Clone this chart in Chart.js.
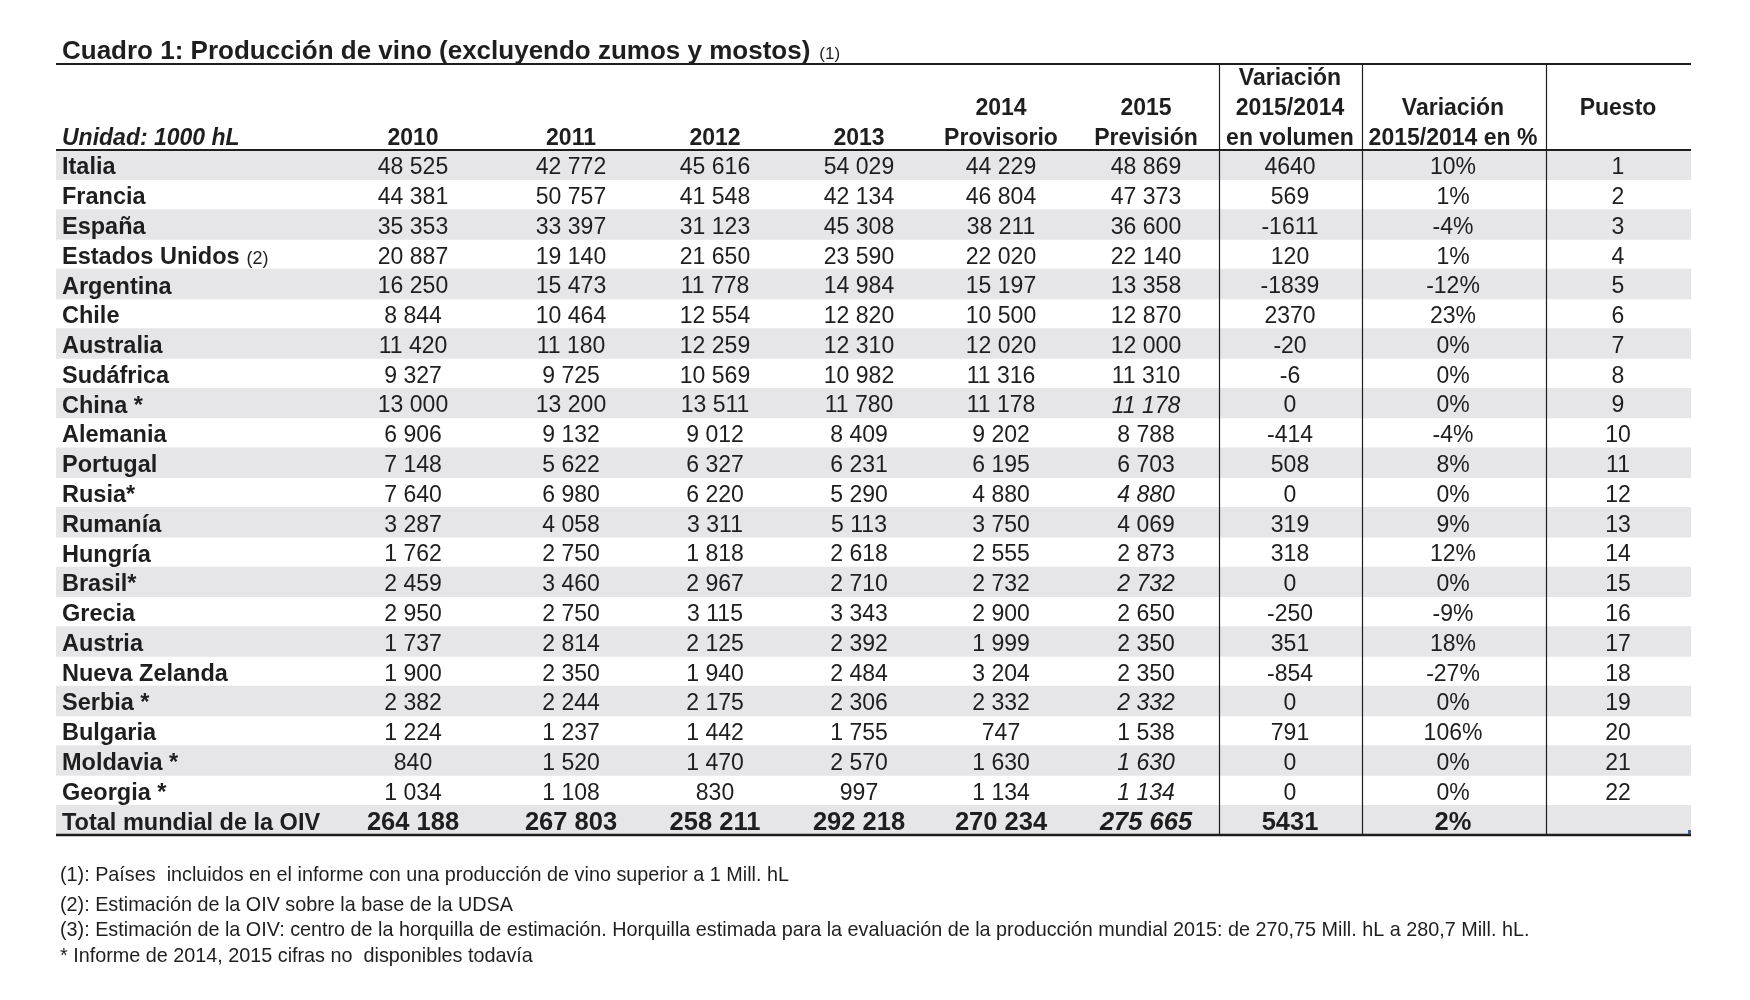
<!DOCTYPE html>
<html>
<head>
<meta charset="utf-8">
<script src="https://cdn.jsdelivr.net/npm/chart.js"></script>
<style>
    body { margin: 0; background: #fff; }
</style>
</head>
<body>
<canvas id="js--tabla" width="1750" height="1000"></canvas>
<script>
/* datos del cuadro, en 1000 hL */
const paises = ["Italia", "Francia", "España", "Estados Unidos (2)", "Argentina", "Chile", "Australia",
    "Sudáfrica", "China *", "Alemania", "Portugal", "Rusia*", "Rumanía", "Hungría", "Brasil*", "Grecia",
    "Austria", "Nueva Zelanda", "Serbia *", "Bulgaria", "Moldavia *", "Georgia *", "Total mundial de la OIV"];

const prod2010 = [48525, 44381, 35353, 20887, 16250, 8844, 11420, 9327, 13000, 6906, 7148, 7640, 3287, 1762, 2459, 2950, 1737, 1900, 2382, 1224, 840, 1034, 264188];
const prod2011 = [42772, 50757, 33397, 19140, 15473, 10464, 11180, 9725, 13200, 9132, 5622, 6980, 4058, 2750, 3460, 2750, 2814, 2350, 2244, 1237, 1520, 1108, 267803];
const prod2012 = [45616, 41548, 31123, 21650, 11778, 12554, 12259, 10569, 13511, 9012, 6327, 6220, 3311, 1818, 2967, 3115, 2125, 1940, 2175, 1442, 1470, 830, 258211];
const prod2013 = [54029, 42134, 45308, 23590, 14984, 12820, 12310, 10982, 11780, 8409, 6231, 5290, 5113, 2618, 2710, 3343, 2392, 2484, 2306, 1755, 2570, 997, 292218];
const prod2014 = [44229, 46804, 38211, 22020, 15197, 10500, 12020, 11316, 11178, 9202, 6195, 4880, 3750, 2555, 2732, 2900, 1999, 3204, 2332, 747, 1630, 1134, 270234];
const prod2015 = [48869, 47373, 36600, 22140, 13358, 12870, 12000, 11310, 11178, 8788, 6703, 4880, 4069, 2873, 2732, 2650, 2350, 2350, 2332, 1538, 1630, 1134, 275665];
const variacionVol = [4640, 569, -1611, 120, -1839, 2370, -20, -6, 0, -414, 508, 0, 319, 318, 0, -250, 351, -854, 0, 791, 0, 0, 5431];
const variacionPct = [10, 1, -4, 1, -12, 23, 0, 0, 0, -4, 8, 0, 9, 12, 0, -9, 18, -27, 0, 106, 0, 0, 2];
const puesto = [1, 2, 3, 4, 5, 6, 7, 8, 9, 10, 11, 12, 13, 14, 15, 16, 17, 18, 19, 20, 21, 22, null];

// cifras de 2015 que repiten el informe de 2014 (van en cursiva)
const repetido2015 = [8, 11, 14, 18, 20, 21, 22];

const encabezados = [
    ["Unidad: 1000 hL"], ["2010"], ["2011"], ["2012"], ["2013"],
    ["2014", "Provisorio"], ["2015", "Previsión"],
    ["Variación", "2015/2014", "en volumen"], ["Variación", "2015/2014 en %"], ["Puesto"]
];

const titulo = "Cuadro 1: Producción de vino (excluyendo zumos y mostos)";
const notas = [
    "(1): Países  incluidos en el informe con una producción de vino superior a 1 Mill. hL",
    "(2): Estimación de la OIV sobre la base de la UDSA",
    "(3): Estimación de la OIV: centro de la horquilla de estimación. Horquilla estimada para la evaluación de la producción mundial 2015: de 270,75 Mill. hL a 280,7 Mill. hL.",
    "* Informe de 2014, 2015 cifras no  disponibles todavía"
];

/* opmaak: kolommen in eenheden van de x-as (0 - 1635) */
const ANCHO = 1635;
const colX = [6, 357, 515, 659, 803, 945, 1090, 1234, 1397, 1562];
const separadores = [1163, 1306, 1490];
const FONT = '"Liberation Sans", Arial, Helvetica, sans-serif';
const GRIS = '#e6e6e8';
const TINTA = '#1e1e1e';

function miles(n) {
    return String(n).replace(/\B(?=(\d{3})+(?!\d))/g, ' ');
}

const tablaPlugin = {
    id: 'tabla',
    afterDatasetsDraw: function (chart) {
        const ctx = chart.ctx;
        const x = chart.scales.x;
        const y = chart.scales.y;
        const area = chart.chartArea;
        const izq = x.getPixelForValue(0);
        const der = x.getPixelForValue(ANCHO);

        ctx.save();
        ctx.fillStyle = TINTA;
        ctx.strokeStyle = TINTA;
        ctx.textBaseline = 'middle';

        // titulo
        ctx.textAlign = 'left';
        ctx.font = 'bold 26px ' + FONT;
        ctx.fillText(titulo, x.getPixelForValue(colX[0]), area.top - 98);
        const w = ctx.measureText(titulo).width;
        ctx.font = '17px ' + FONT;
        ctx.fillText("(1)", x.getPixelForValue(colX[0]) + w + 9, area.top - 96);

        // lineas
        ctx.lineWidth = 2;
        ctx.beginPath();
        ctx.moveTo(izq, area.top - 86); ctx.lineTo(der, area.top - 86);
        ctx.moveTo(izq, area.top); ctx.lineTo(der, area.top);
        ctx.stroke();
        ctx.lineWidth = 2.5;
        ctx.beginPath();
        ctx.moveTo(izq, area.bottom); ctx.lineTo(der, area.bottom);
        ctx.stroke();
        ctx.lineWidth = 1.2;
        ctx.beginPath();
        separadores.forEach(function (s) {
            const px = Math.round(x.getPixelForValue(s)) + 0.5;
            ctx.moveTo(px, area.top - 86); ctx.lineTo(px, area.bottom);
        });
        ctx.stroke();

        // encabezados
        encabezados.forEach(function (lineas, c) {
            const px = x.getPixelForValue(colX[c]);
            ctx.textAlign = c === 0 ? 'left' : 'center';
            ctx.font = (c === 0 ? 'italic bold ' : 'bold ') + '23px ' + FONT;
            // "Puesto" sits centred in the header, the rest bottom aligned
            const abajo = c === 9 ? area.top - 41 : area.top - 11;
            for (let l = 0; l < lineas.length; l++) {
                ctx.fillText(lineas[l], px, abajo - (lineas.length - 1 - l) * 30);
            }
        });

        // celdas
        const columnas = [prod2010, prod2011, prod2012, prod2013, prod2014, prod2015];
        for (let i = 0; i < paises.length; i++) {
            const py = y.getPixelForValue(i) + 3;
            const total = i === paises.length - 1;
            const tam = total ? 'bold 25.5px ' : '23px ';

            ctx.textAlign = 'left';
            const m = paises[i].match(/^(.*)\s(\(\d\))$/);
            const nombre = m ? m[1] : paises[i];
            ctx.font = 'bold 23.5px ' + FONT;
            ctx.fillText(nombre, x.getPixelForValue(colX[0]), py);
            if (m) {
                const wn = ctx.measureText(nombre).width;
                ctx.font = '18px ' + FONT;
                ctx.fillText(m[2], x.getPixelForValue(colX[0]) + wn + 7, py + 2);
            }

            ctx.textAlign = 'center';
            columnas.forEach(function (col, c) {
                const cursiva = c === 5 && repetido2015.indexOf(i) >= 0 ? 'italic ' : '';
                ctx.font = cursiva + tam + FONT;
                ctx.fillText(miles(col[i]), x.getPixelForValue(colX[c + 1]), py);
            });
            ctx.font = tam + FONT;
            ctx.fillText(String(variacionVol[i]), x.getPixelForValue(colX[7]), py);
            ctx.fillText(variacionPct[i] + '%', x.getPixelForValue(colX[8]), py);
            if (puesto[i] !== null) {
                ctx.fillText(String(puesto[i]), x.getPixelForValue(colX[9]), py);
            }
        }

        // marca azul de la hoja original
        ctx.fillStyle = '#3c5aa6';
        ctx.fillRect(der - 3, area.bottom - 5, 3, 4);

        // notas
        ctx.fillStyle = TINTA;
        ctx.textAlign = 'left';
        ctx.font = '19.8px ' + FONT;
        const notasY = [41, 71, 96, 122];
        notas.forEach(function (t, k) {
            ctx.fillText(t, izq + 4, area.bottom + notasY[k]);
        });
        ctx.restore();
    }
};

// filas sombreadas como barras horizontales de ancho completo
const franjas = paises.map(function (p, i) {
    return i % 2 === 0 ? [0, ANCHO] : null;
});

new Chart(document.getElementById("js--tabla"), {
    type: 'bar',
    data: {
        labels: paises,
        datasets: [{
            data: franjas,
            backgroundColor: GRIS,
            borderWidth: 0,
            barPercentage: 1,
            categoryPercentage: 1
        }]
    },
    options: {
        indexAxis: 'y',
        responsive: false,
        animation: false,
        devicePixelRatio: 1,
        layout: { padding: { left: 56, right: 59, top: 150, bottom: 165 } },
        plugins: { legend: { display: false }, tooltip: { enabled: false }, title: { display: false } },
        scales: {
            x: { type: 'linear', min: 0, max: ANCHO, display: false },
            y: { type: 'category', display: false }
        }
    },
    plugins: [tablaPlugin]
});
</script>
</body>
</html>
